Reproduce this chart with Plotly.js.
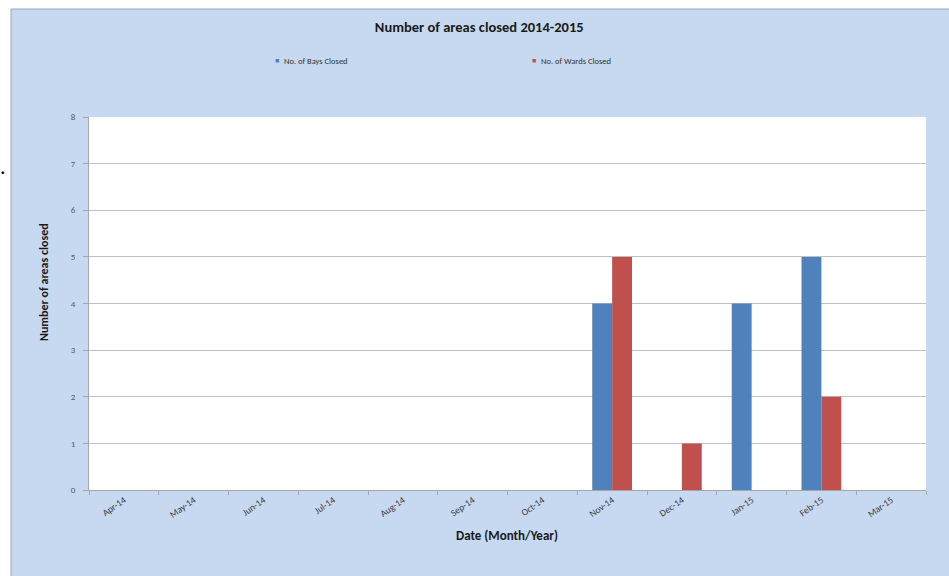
<!DOCTYPE html>
<html>
<head>
<meta charset="utf-8">
<script src="https://cdn.plot.ly/plotly-3.0.1.min.js"></script>
<style>html,body{margin:0;padding:0;background:#fff;}#chart{width:949px;height:576px;}</style>
</head>
<body>
<div id="chart"></div>
<script>
const months = ["Apr-14","May-14","Jun-14","Jul-14","Aug-14","Sep-14","Oct-14","Nov-14","Dec-14","Jan-15","Feb-15","Mar-15"];
const baysClosed = [0,0,0,0,0,0,0,4,0,4,5,0];
const wardsClosed = [0,0,0,0,0,0,0,5,1,0,2,0];
const yTicks = [0,1,2,3,4,5,6,7,8];
const seriesNames = ["No. of Bays Closed","No. of Wards Closed"];
const seriesColors = ['#4f81bd','#c0504d'];

const FONT = 'Carlito,"Liberation Sans",Arial,sans-serif';

const traces = [
  {type:'bar', name:seriesNames[0], x:months, y:baysClosed, marker:{color:seriesColors[0]}},
  {type:'bar', name:seriesNames[1], x:months, y:wardsClosed, marker:{color:seriesColors[1]}}
];

const W = 837, H = 373; // plot area size in px
const px = v => (v - 89) / W;       // pixel x -> paper x
const py = v => (576 - 86 - v) / H; // pixel y -> paper y

const legendX = [277, 534];
const legendAnn = [];
seriesNames.forEach((n, i) => {
  legendAnn.push({text:'■', xref:'paper', yref:'paper', x:px(legendX[i]), y:py(61), xanchor:'center', yanchor:'middle', showarrow:false, font:{family:FONT, size:7, color:seriesColors[i]}});
  legendAnn.push({text:n, xref:'paper', yref:'paper', x:px(legendX[i] + 5), y:py(61), xanchor:'left', yanchor:'middle', showarrow:false, font:{family:FONT, size:8.5, color:'#333333'}});
});

const layout = {
  width:949, height:576,
  margin:{l:89, r:23, t:117, b:86},
  paper_bgcolor:'#ffffff',
  plot_bgcolor:'#ffffff',
  font:{family:FONT, color:'#595959', size:8},
  barmode:'group',
  bargap:0.43,
  bargroupgap:0,
  title:{text:'<b>Number of areas closed 2014-2015</b>', font:{family:FONT, size:14.5, color:'#1a1a1a'}, x:0.505, xanchor:'center', xref:'container', y:0.953, yanchor:'middle', yref:'container'},
  showlegend:false,
  xaxis:{type:'category', tickson:'boundaries', ticks:'outside', ticklen:4, tickcolor:'#a6a6a6', showline:true, linecolor:'#a6a6a6', linewidth:1, tickangle:-35, tickfont:{family:FONT, size:9.5, color:'#404040'}, showgrid:false},
  yaxis:{range:[0,8], tickvals:yTicks, ticks:'outside', ticklen:5, tickcolor:'#a6a6a6', showline:true, linecolor:'#a6a6a6', linewidth:1, showgrid:true, gridcolor:'#c0c0c0', gridwidth:1, zeroline:false, tickfont:{family:FONT, size:9, color:'#595959'}, ticklabelstandoff:6},
  shapes:[
    {type:'rect', xref:'paper', yref:'paper', layer:'below', x0:px(11), x1:px(960), y0:py(590), y1:py(9), fillcolor:'#c6d9f0', line:{color:'#9aa7b8', width:1}},
    {type:'rect', xref:'paper', yref:'paper', layer:'below', x0:0, x1:1, y0:0, y1:1, fillcolor:'#ffffff', line:{width:0}}
  ],
  annotations:[
    {text:'.', xref:'paper', yref:'paper', x:px(3), y:py(182), showarrow:false, font:{size:22, color:'#000'}, xanchor:'center', yanchor:'bottom'},
    {text:'<b>Date (Month/Year)</b>', xref:'paper', yref:'paper', x:px(507), y:py(535), showarrow:false, xanchor:'center', yanchor:'middle', font:{family:FONT, size:13, color:'#1a1a1a'}},
    {text:'<b>Number of areas closed</b>', xref:'paper', yref:'paper', x:px(44), y:py(282), textangle:-90, showarrow:false, xanchor:'center', yanchor:'middle', font:{family:FONT, size:12, color:'#1a1a1a'}}
  ].concat(legendAnn)
};

Plotly.newPlot('chart', traces, layout, {displayModeBar:false, staticPlot:true});
</script>
</body>
</html>
